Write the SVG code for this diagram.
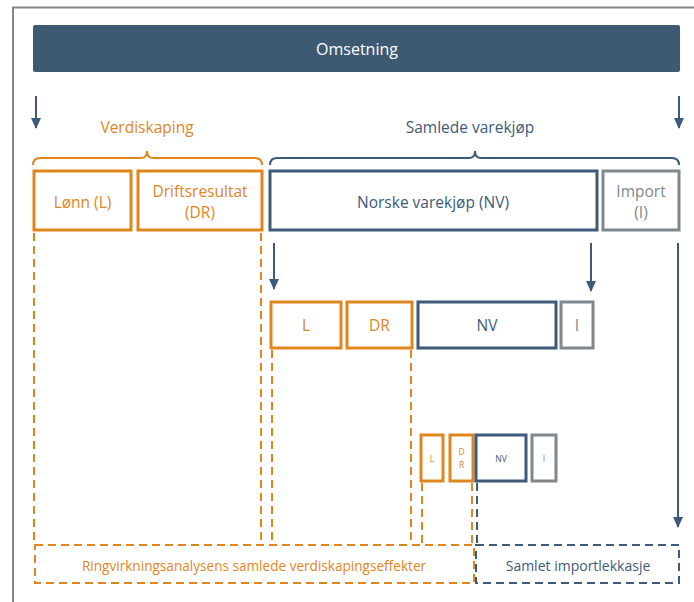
<svg xmlns="http://www.w3.org/2000/svg" width="694" height="602" viewBox="0 0 694 602">
<style>
text{font-family:"Open Sans","Liberation Sans",sans-serif;text-anchor:middle;dominant-baseline:central}
.o{fill:none;stroke:#E0861E;stroke-width:3}
.b{fill:none;stroke:#3D5A7A;stroke-width:3}
.g{fill:none;stroke:#80878D;stroke-width:3}
.to{fill:#E0861E}
.tb{fill:#3D5A7A}
.tg{fill:#80878D}
.do{fill:none;stroke:#E0861E;stroke-width:2;stroke-dasharray:8 5}
.db{fill:none;stroke:#3D5A7A;stroke-width:2;stroke-dasharray:8 5}
.ar{fill:none;stroke:#3D5A7A;stroke-width:2;marker-end:url(#ah)}
.br{fill:none;stroke-width:2}
</style>
<defs>
<marker id="ah" markerUnits="userSpaceOnUse" markerWidth="12" markerHeight="12" viewBox="0 0 12 12" refX="10" refY="6" orient="auto">
<path d="M0,1 L11,6 L0,11 Z" fill="#3D5A7A"/>
</marker>
</defs>
<rect x="0" y="0" width="694" height="602" fill="#fff"/>
<rect x="13" y="7.5" width="720" height="700" fill="none" stroke="#80878D" stroke-width="2"/>

<g id="omsetning">
<rect x="33" y="25" width="647" height="47" rx="2" fill="#3D5A72"/>
<text x="357" y="48.5" font-size="16" fill="#fff">Omsetning</text>
</g>

<g id="verdiskaping">
<text x="147" y="127" font-size="15.5" class="to">Verdiskaping</text>
<path class="br" stroke="#E0861E" d="M33,165 Q33,158 40,158 H141 Q147,158 147,151 Q147,158 153,158 H255 Q262,158 262,165"/>
</g>
<g id="samlede-varekjop">
<text x="470" y="127" font-size="15.5" class="tb">Samlede varekjøp</text>
<path class="br" stroke="#3D5A7A" d="M270,165 Q270,158 277,158 H469 Q475,158 475,151 Q475,158 481,158 H672 Q679,158 679,165"/>
</g>

<g id="lonn">
<rect class="o" x="34" y="171" width="97" height="59"/>
<text x="82.5" y="202" font-size="15.5" class="to">Lønn (L)</text>
</g>
<g id="driftsresultat">
<rect class="o" x="138" y="171" width="124" height="59"/>
<text x="200" y="191" font-size="15.5" class="to">Driftsresultat</text>
<text x="200" y="212" font-size="15.5" class="to">(DR)</text>
</g>
<g id="norske-varekjop">
<rect class="b" x="270" y="171" width="327" height="59"/>
<text x="433" y="202" font-size="15.5" class="tb">Norske varekjøp (NV)</text>
</g>
<g id="import">
<rect class="g" x="603" y="171" width="76" height="59"/>
<text x="641" y="191" font-size="15.5" class="tg">Import</text>
<text x="641" y="212" font-size="15.5" class="tg">(I)</text>
</g>

<g id="l2">
<rect class="o" x="271" y="302" width="70" height="46"/>
<text x="306" y="325" font-size="15.5" class="to">L</text>
</g>
<g id="dr2">
<rect class="o" x="347" y="302" width="65" height="46"/>
<text x="379.5" y="325" font-size="15.5" class="to">DR</text>
</g>
<g id="nv2">
<rect class="b" x="418" y="302" width="138" height="46"/>
<text x="487" y="325" font-size="15.5" class="tb">NV</text>
</g>
<g id="i2">
<rect class="g" x="561" y="302" width="32" height="46"/>
<text x="577" y="325" font-size="15.5" class="tg">I</text>
</g>

<g id="l3">
<rect class="o" x="421" y="435" width="22" height="46"/>
<text x="432" y="458" font-size="8.5" class="to">L</text>
</g>
<g id="dr3">
<rect class="o" x="450" y="435" width="23" height="46"/>
<text x="461.5" y="451" font-size="8.5" class="to">D</text>
<text x="461.5" y="464" font-size="8.5" class="to">R</text>
</g>
<g id="nv3">
<rect class="b" x="476" y="435" width="50" height="46"/>
<text x="501" y="458" font-size="8.5" class="tb">NV</text>
</g>
<g id="i3">
<rect class="g" x="532" y="435" width="24" height="46"/>
<text x="544" y="458" font-size="8.5" class="tg">I</text>
</g>

<g id="ringvirkning">
<rect class="do" x="35" y="545" width="439" height="38"/>
<text x="254" y="565" font-size="13.6" class="to">Ringvirkningsanalysens samlede verdiskapingseffekter</text>
</g>
<g id="importlekkasje">
<rect class="db" x="476" y="545" width="203" height="38"/>
<text x="578" y="565" font-size="14" class="tb">Samlet importlekkasje</text>
</g>

<g id="connectors">
<line class="ar" x1="36" y1="96" x2="36" y2="128"/>
<line class="ar" x1="679" y1="96" x2="679" y2="128"/>
<line class="ar" x1="274" y1="243" x2="274" y2="289"/>
<line class="ar" x1="591" y1="243" x2="591" y2="291"/>
<line class="ar" x1="678" y1="243" x2="678" y2="527"/>
<line class="do" x1="34" y1="233" x2="34" y2="544"/>
<line class="do" x1="261" y1="233" x2="261" y2="544"/>
<line class="do" x1="272" y1="350" x2="272" y2="544"/>
<line class="do" x1="411" y1="350" x2="411" y2="544"/>
<line class="do" x1="422" y1="483" x2="422" y2="544"/>
<line class="do" x1="472" y1="483" x2="472" y2="544"/>
<line class="db" x1="477" y1="483" x2="477" y2="544"/>
</g>
</svg>
